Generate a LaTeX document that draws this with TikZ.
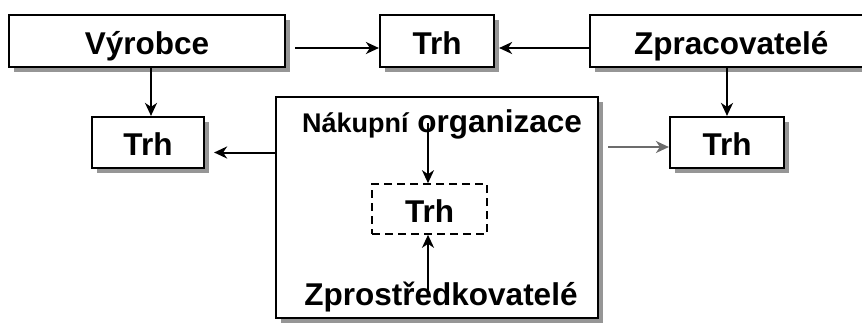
\documentclass[tikz,border=0pt]{standalone}
\usepackage{fontspec}
\setmainfont{Liberation Sans}
\usepackage{tikz}
\usetikzlibrary{arrows.meta, shadows}

\begin{document}
\begin{tikzpicture}[x=1pt, y=-1pt,
  box/.style={draw, line width=2.2pt, fill=white, inner sep=0pt,
    text height=26pt, text depth=0pt,
    font=\fontsize{31.5}{34}\selectfont\bfseries,
    drop shadow={shadow xshift=5pt, shadow yshift=-5pt, fill=gray!50!black!55, opacity=1}},
  arr/.style={-{Stealth[length=13pt,width=12pt,inset=4pt]}, line width=2pt}]
\clip (0,0) rectangle (862,322);
% horni rada
\node[box, minimum width=276pt, minimum height=52pt] (vyrobce) at (147,41) {Výrobce};
\node[box, minimum width=114pt, minimum height=52pt] (trhtop) at (437,41) {Trh};
\node[box, minimum width=290pt, minimum height=52pt, text width=276pt, align=left] (zprac) at (735,41) {\hspace{37pt}Zpracovatelé};
% druha rada
\node[box, minimum width=112pt, minimum height=51pt] (trhleft) at (148,142.5) {Trh};
\node[box, minimum width=114pt, minimum height=51pt] (trhright) at (727,142.5) {Trh};
% nakupni organizace
\node[box, minimum width=322pt, minimum height=221pt] (nakup) at (437,207.5) {};
\node[draw, dash pattern=on 8pt off 5pt, line width=1.6pt, fill=white,
  minimum width=115pt, minimum height=50pt, text height=26pt, text depth=0pt,
  font=\fontsize{31.5}{34}\selectfont\bfseries] (trhdash) at (429.5,209) {Trh};
\node[anchor=base, inner sep=0pt, font=\fontsize{31.5}{34}\selectfont\bfseries] (nakuptxt) at (442,132)
  {{\fontsize{27}{30}\selectfont Nákupní} organizace};
\node[anchor=base, inner sep=0pt, font=\fontsize{31.5}{34}\selectfont\bfseries] (zprost) at (441,305) {Zprostředkovatelé};
% sipky
\draw[arr] ([xshift=9pt,yshift=-7pt]vyrobce.east) -- ([yshift=-7pt]trhtop.west);
\draw[arr] ([yshift=-7pt]zprac.west) -- ([xshift=4pt,yshift=-7pt]trhtop.east);
\draw[arr] ([xshift=3pt]trhleft.north |- vyrobce.south) -- ([xshift=3pt]trhleft.north);
\draw[arr] (trhright.north |- zprac.south) -- (trhright.north);
\draw[arr] ([yshift=-10pt]trhleft.east -| nakup.west) -- ([xshift=9pt,yshift=-10pt]trhleft.east);
\draw[arr, draw=gray!85!black] ([xshift=9pt,yshift=-4.5pt]trhright.west -| nakup.east) -- ([yshift=-4.5pt]trhright.west);
\draw[arr] ([xshift=-1.5pt,yshift=9pt]trhdash.north |- nakuptxt.base) -- ([xshift=-1.5pt]trhdash.north);
\draw[arr] ([xshift=-1.5pt,yshift=15pt]trhdash.south |- zprost.base) -- ([xshift=-1.5pt]trhdash.south);
\end{tikzpicture}
\end{document}
